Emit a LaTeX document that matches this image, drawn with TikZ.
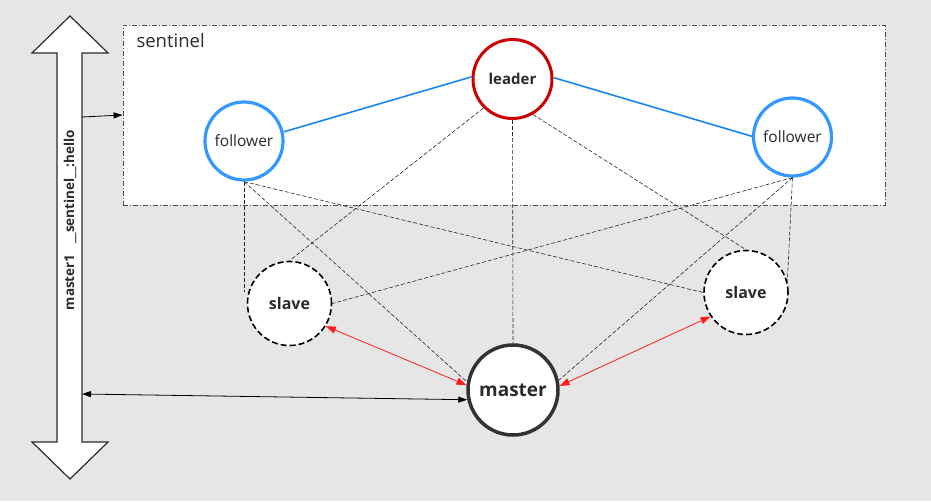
\documentclass[tikz,border=0pt]{standalone}
\usepackage{fontspec}
\setmainfont{Open Sans}
\usetikzlibrary{arrows.meta}
\definecolor{bg}{HTML}{E6E6E6}
\definecolor{txt}{HTML}{2B2B2B}
\definecolor{leaderred}{HTML}{CC0000}
\definecolor{follblue}{HTML}{3399FF}
\definecolor{linkblue}{HTML}{1A86F0}
\definecolor{mstroke}{HTML}{333333}
\definecolor{redarrow}{HTML}{FF1A1A}
\begin{document}
\begin{tikzpicture}[x=1pt,y=-1pt,
  every node/.style={text=txt},
  circ/.style={circle, fill=white, inner sep=0pt, minimum size=#1},
  leaderstyle/.style={circ=79pt, draw=leaderred, line width=3pt, font=\bfseries\fontsize{15}{17}\selectfont},
  follstyle/.style={circ=78pt, draw=follblue, line width=3.2pt, font=\fontsize{15.5}{17}\selectfont},
  slavestyle/.style={circ=84pt, draw=black, line width=1.6pt, dash pattern=on 6pt off 3pt, font=\bfseries\fontsize{16}{18}\selectfont},
  masterstyle/.style={circ=90pt, draw=mstroke, line width=3.5pt, font=\bfseries\fontsize{19}{21}\selectfont},
  thindash/.style={draw=black!85, line width=0.6pt, dash pattern=on 4pt off 2pt},
  bluelink/.style={draw=linkblue, line width=1.6pt},
  redlink/.style={draw=redarrow, line width=0.8pt, {Triangle[length=10pt,width=7pt]}-{Triangle[length=10pt,width=7pt]}},
  blacklink/.style={draw=black, line width=0.8pt},
]
\fill[bg] (0,0) rectangle (931,501);
\useasboundingbox (0,0) rectangle (931,501);

% sentinel box
\node[draw=black!70, fill=white, line width=0.8pt, dash pattern=on 5pt off 2pt on 1pt off 2pt,
      minimum width=762pt, minimum height=180pt, inner sep=0pt] (sent) at (504,115) {};
\node[anchor=base west, font=\fontsize{18.5}{20}\selectfont] (sentlabel) at (133,47) {sentinel};

% big double arrow
\draw[draw=txt, fill=white, line width=1.2pt, line join=miter]
  (70,16) -- (108,53) -- (82,53) -- (82,442) -- (108,442) -- (70,479) -- (32,442) -- (57,442) -- (57,53) -- (32,53) -- cycle;
\node[rotate=90, font=\bfseries\fontsize{13.5}{15}\selectfont] (hello) at (70,220) {master1\ \ \ \_\_sentinel\_\_:hello};
\coordinate (s1) at (82,117);
\coordinate (s2) at (82,394);

% nodes
\node[leaderstyle] (leader) at (512.5,79) {leader};
\node[follstyle] (lf) at (244,141) {follower};
\node[follstyle] (rf) at (792.5,137) {follower};
\node[slavestyle] (ls) at (289.5,303.5) {slave};
\node[slavestyle] (rs) at (746,292.5) {slave};
\node[masterstyle] (master) at (513,390) {master};

% dashed links
\draw[thindash] (lf.south) -- (lf.south |- ls.165);
\draw[thindash] (lf.south) -- (master.170);
\draw[thindash] (lf.south) -- (rs.west);
\draw[thindash] (leader.225) -- (ls.north);
\draw[thindash] (leader.south) -- (master.north);
\draw[thindash] (leader.300) -- (rs.north);
\draw[thindash] (rf.south) -- (ls.east);
\draw[thindash] (rf.south) -- (master.12);
\draw[thindash] (rf.south) -- (rs.15);

% blue links
\draw[bluelink] (lf.13) -- (leader.177);
\draw[bluelink] (leader.2) -- (rf.179);

% red links
\draw[redlink] (ls.328) -- (master.174);
\draw[redlink] (master.5) -- (rs.214);

% black arrows
\draw[blacklink, -{Triangle[length=9pt,width=6pt]}] (s1) -- (sent.west);
\draw[blacklink, {Triangle[length=9pt,width=6pt]}-{Triangle[length=9pt,width=6pt]}] (s2) -- (master.192);
\end{tikzpicture}
\end{document}
